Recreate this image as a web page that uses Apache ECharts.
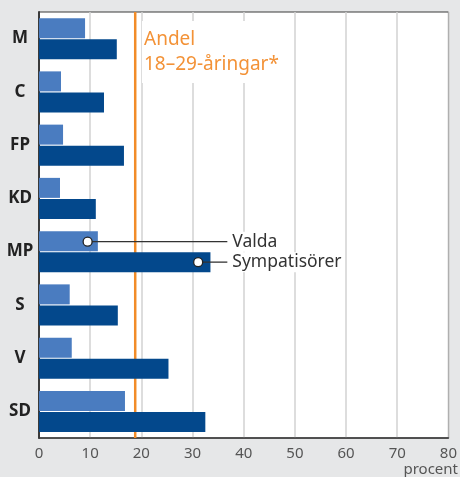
<!DOCTYPE html>
<html>
<head>
<meta charset="utf-8">
<script src="https://cdn.jsdelivr.net/npm/echarts@6/dist/echarts.min.js"></script>
<style>
  html, body { margin: 0; padding: 0; background: #e6e7e8; }
  #main { width: 460px; height: 477px; }
</style>
</head>
<body>
<div id="main"></div>
<script>
// partier, uppifrån och ned
const parties = ['M', 'C', 'FP', 'KD', 'MP', 'S', 'V', 'SD'];
// andel 18-29 år bland valda (procent)
const valda = [9.0, 4.3, 4.7, 4.1, 11.5, 6.0, 6.4, 16.8];
// andel 18-29 år bland sympatisörer (procent)
const sympatisorer = [15.2, 12.7, 16.6, 11.1, 33.5, 15.4, 25.3, 32.5];
// andel 18-29-åringar i befolkningen
const andel = [18.8];
const xTicks = [0, 10, 20, 30, 40, 50, 60, 70, 80];
// förklaringar: [punkt, parti, linjens slut, text, serie]
const notes = [
    [9.5, 'MP', 36.8, 'Valda', 0],
    [31.1, 'MP', 36.8, 'Sympatisörer', 1]
];

const chart = echarts.init(document.getElementById('main'), null, { renderer: 'canvas' });

const font = "'Noto Sans', 'Open Sans', sans-serif";

let option = {
    backgroundColor: '#e6e7e8',
    animation: false,
    grid: {
        left: 39, right: 10, top: 12, bottom: 39,
        show: true,
        backgroundColor: '#ffffff',
        borderColor: '#3a3a3a',
        borderWidth: 1
    },
    xAxis: {
        type: 'value',
        min: xTicks[0],
        max: xTicks[xTicks.length - 1],
        interval: 10,
        axisLine: { show: true, lineStyle: { color: '#3a3a3a', width: 1.5 } },
        axisTick: { show: false },
        axisLabel: { color: '#555', fontSize: 15, fontFamily: font, margin: 8 },
        splitLine: { show: true, lineStyle: { color: '#d2d2d2', width: 1.5 } }
    },
    yAxis: {
        type: 'category',
        data: parties,
        inverse: true,
        axisLine: { show: true, lineStyle: { color: '#3a3a3a', width: 2 } },
        axisTick: { show: false },
        axisLabel: {
            color: '#222', fontSize: 17, fontWeight: 'bold', fontFamily: font,
            align: 'center', margin: 19
        },
        splitLine: { show: false }
    },
    series: [
        {
            // orange reference line, under the bars
            type: 'custom',
            z: 1,
            data: andel.map(v => [v]),
            encode: { x: 0 },
            renderItem: function (params, api) {
                const cs = params.coordSys;
                const x = api.coord([api.value(0), 0])[0];
                return {
                    type: 'line',
                    shape: { x1: x, y1: cs.y, x2: x, y2: cs.y + cs.height },
                    style: { stroke: '#f28c28', lineWidth: 2.5 }
                };
            }
        },
        {
            name: 'Valda',
            type: 'bar',
            z: 3,
            data: valda,
            barWidth: 20,
            barGap: '5%',
            itemStyle: { color: '#4a7cc0' }
        },
        {
            name: 'Sympatisörer',
            type: 'bar',
            z: 3,
            data: sympatisorer,
            barWidth: 20,
            itemStyle: { color: '#03488c' }
        },
        {
            type: 'custom',
            z: 10,
            data: notes,
            encode: { x: 0, y: 1 },
            renderItem: function (params, api) {
                const p = api.coord([api.value(0), api.value(1)]);
                const end = api.coord([api.value(2), api.value(1)]);
                const dy = api.value(4) === 0 ? -10 : 10.5;
                const y = p[1] + dy;
                return {
                    type: 'group',
                    children: [
                        {
                            type: 'line',
                            shape: { x1: p[0], y1: y, x2: end[0], y2: y },
                            style: { stroke: '#333', lineWidth: 1.3 }
                        },
                        {
                            type: 'circle',
                            shape: { cx: p[0], cy: y, r: 4.5 },
                            style: { fill: '#fff', stroke: '#222', lineWidth: 1.3 }
                        },
                        {
                            type: 'text',
                            x: end[0] + 4,
                            y: y,
                            style: {
                                text: notes[params.dataIndex][3],
                                fill: '#333',
                                font: '17.5px ' + font,
                                verticalAlign: 'middle',
                                align: 'left',
                                backgroundColor: '#fff',
                                padding: [1, 2, 1, 1]
                            }
                        }
                    ]
                };
            }
        }
    ],
    graphic: [
        {
            type: 'text',
            left: 142,
            top: 21,
            z: 100,
            style: {
                text: 'Andel\n18–29-åringar*',
                fill: '#f39237',
                font: '19px ' + font,
                lineHeight: 25,
                backgroundColor: '#fff',
                padding: [6, 4, 6, 2]
            }
        },
        {
            type: 'text',
            right: 2,
            bottom: 0,
            style: {
                text: 'procent',
                fill: '#555',
                font: '15px ' + font
            }
        }
    ]
};

chart.setOption(option);
</script>
</body>
</html>
